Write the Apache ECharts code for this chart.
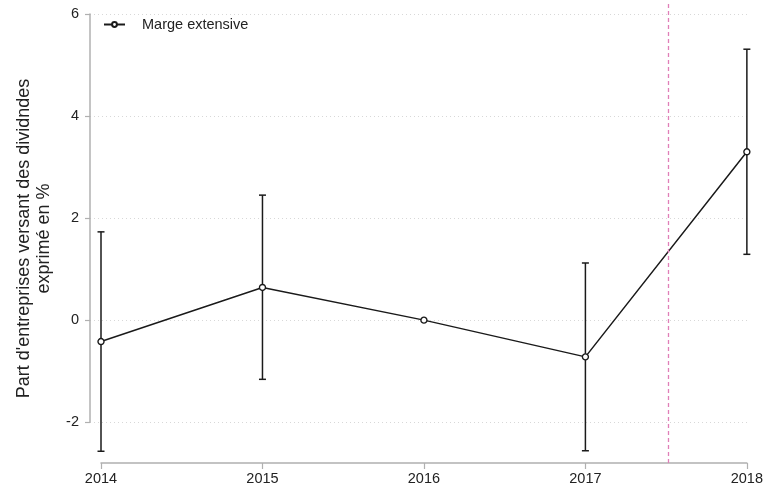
<!DOCTYPE html>
<html>
<head>
<meta charset="utf-8">
<script src="https://cdn.jsdelivr.net/npm/echarts@6/dist/echarts.min.js"></script>
<style>html,body{margin:0;padding:0;background:#fff}#c{width:766px;height:489px}</style>
</head>
<body>
<div id="c"></div>
<script>
var years = [2014, 2015, 2016, 2017, 2018];
var estimates = [-0.42, 0.64, 0.0, -0.72, 3.30];
var lowerCI = [-2.57, -1.16, 0.0, -2.56, 1.29];
var upperCI = [1.73, 2.45, 0.0, 1.12, 5.31];
var yTicks = [-2, 0, 2, 4, 6];
var cutoff = 2017.5;
var seriesName = 'Marge extensive';
var yTitle = "Part d'entreprises versant des dividndes\nexprimé en %";

var font = 'Liberation Sans, Arial, sans-serif';
var chart = echarts.init(document.getElementById('c'));
var pts = years.map(function (y, i) { return [y, estimates[i]]; });
var bars = years.map(function (y, i) { return [y, lowerCI[i], upperCI[i]]; });

chart.setOption({
  animation: false,
  backgroundColor: '#fff',
  textStyle: { fontFamily: font },
  legend: {
    left: 98, top: 12, itemWidth: 21, itemHeight: 6, itemGap: 10,
    textStyle: { fontSize: 14.5, color: '#222', fontFamily: font, padding: [0, 0, 0, 12] },
    data: [seriesName]
  },
  grid: [
    { left: 90, right: 16, top: 14, bottom: 67 },
    { left: 101, right: 17, top: 14, bottom: 26 },
    { left: 101, right: 17, top: 3, bottom: 26 }
  ],
  xAxis: [
    { gridIndex: 0, type: 'value', min: 2014, max: 2018, show: false },
    { gridIndex: 1, type: 'value', min: 2014, max: 2018, interval: 1,
      axisLine: { show: true, onZero: false, lineStyle: { color: '#b0b0b0', width: 1.5 } },
      axisTick: { show: true, length: 6, lineStyle: { color: '#b0b0b0', width: 1.2 } },
      axisLabel: { color: '#222', fontSize: 14.5, margin: 8, fontFamily: font,
        formatter: function (v) { return String(v); } },
      splitLine: { show: false } },
    { gridIndex: 2, type: 'value', min: 2014, max: 2018, show: false }
  ],
  yAxis: [
    { gridIndex: 0, type: 'value', min: -2, max: 6, interval: 2,
      axisLine: { show: true, lineStyle: { color: '#b0b0b0', width: 1.5 } },
      axisTick: { show: true, length: 5, lineStyle: { color: '#b0b0b0', width: 1.2 } },
      axisLabel: { color: '#222', fontSize: 14.5, margin: 11, fontFamily: font },
      splitLine: { show: true, lineStyle: { color: '#d8d8d8', type: [1, 3], width: 1 } } },
    { gridIndex: 1, type: 'value', min: -2.8, max: 6, offset: 11,
      name: yTitle, nameLocation: 'middle', nameGap: 36, nameMoveOverlap: false,
      nameTextStyle: { fontSize: 18, color: '#222', lineHeight: 20, fontFamily: font },
      axisLine: { show: false }, axisTick: { show: false }, axisLabel: { show: false },
      splitLine: { show: false } },
    { gridIndex: 2, type: 'value', min: 0, max: 1, show: false, splitLine: { show: false } }
  ],
  series: [
    {
      type: 'custom', xAxisIndex: 1, yAxisIndex: 1, silent: true,
      data: bars, z: 2,
      renderItem: function (params, api) {
        var x = api.value(0), lo = api.value(1), hi = api.value(2);
        if (lo === hi) return null;
        var a = api.coord([x, hi]), b = api.coord([x, lo]);
        var w = 3.5;
        var st = { stroke: '#1a1a1a', lineWidth: 1.5 };
        return { type: 'group', children: [
          { type: 'line', shape: { x1: a[0], y1: a[1], x2: b[0], y2: b[1] }, style: st },
          { type: 'line', shape: { x1: a[0] - w, y1: a[1], x2: a[0] + w, y2: a[1] }, style: st },
          { type: 'line', shape: { x1: b[0] - w, y1: b[1], x2: b[0] + w, y2: b[1] }, style: st }
        ] };
      }
    },
    {
      name: seriesName, type: 'line', xAxisIndex: 1, yAxisIndex: 1,
      data: pts, z: 3,
      symbol: 'circle', symbolSize: 6, showAllSymbol: true,
      lineStyle: { color: '#1a1a1a', width: 1.5 },
      itemStyle: { color: '#fff', borderColor: '#1a1a1a', borderWidth: 1.4 }
    },
    {
      type: 'line', xAxisIndex: 2, yAxisIndex: 2, data: [], silent: true,
      markLine: {
        silent: true, symbol: 'none', label: { show: false },
        lineStyle: { color: '#e07fb8', type: [4, 3], width: 1.3 },
        data: [{ xAxis: cutoff }]
      }
    }
  ]
});
</script>
</body>
</html>
